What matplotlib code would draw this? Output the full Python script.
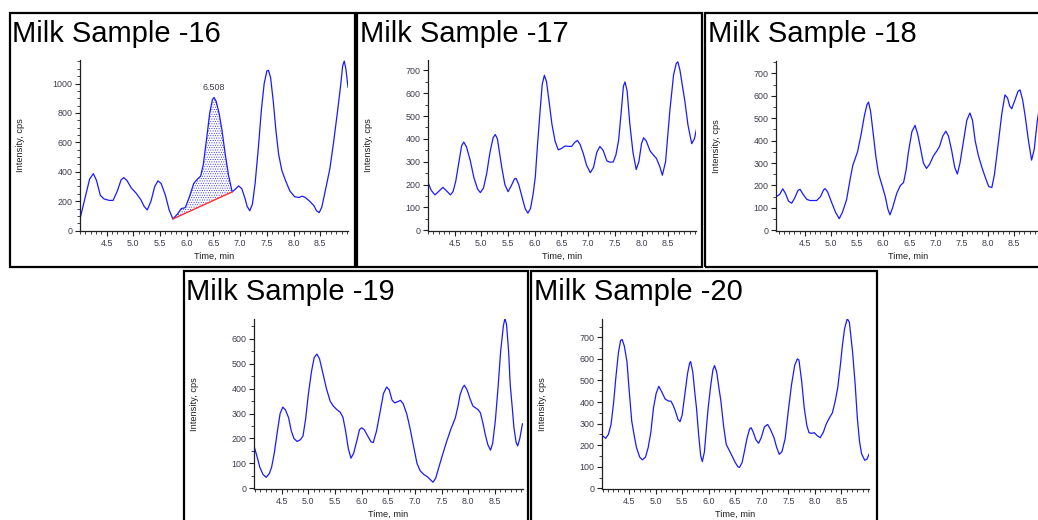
import matplotlib
matplotlib.use("Agg")
import matplotlib.pyplot as plt
from matplotlib.patches import Rectangle
from matplotlib.ticker import MultipleLocator
import numpy as np

plt.rcParams['font.family'] = ['Liberation Sans', 'DejaVu Sans']
plt.rcParams['hatch.linewidth'] = 0.4

W, H = 1038, 520

# Milk Sample -16
t16 = [4.01, 4.10, 4.18, 4.25, 4.31, 4.38, 4.45, 4.55, 4.62, 4.70, 4.77, 4.82, 4.88, 4.96, 5.05,
       5.14, 5.20, 5.26, 5.33, 5.40, 5.46, 5.52, 5.60, 5.67, 5.74, 5.82, 5.90, 5.97, 6.05, 6.13,
       6.20, 6.26, 6.31, 6.37, 6.43, 6.48, 6.51, 6.55, 6.61, 6.66, 6.72, 6.78, 6.85, 6.92, 6.97,
       7.03, 7.09, 7.13, 7.18, 7.23, 7.28, 7.34, 7.40, 7.45, 7.50, 7.53, 7.57, 7.62, 7.67, 7.72,
       7.78, 7.85, 7.93, 8.02, 8.10, 8.16, 8.22, 8.30, 8.38, 8.43, 8.48, 8.53, 8.60, 8.68, 8.75,
       8.82, 8.88, 8.92, 8.95, 8.98, 9.02]
i16 = [95, 230, 350, 387, 340, 240, 215, 205, 205, 270, 345, 360, 340, 290, 255,
       210, 165, 140, 200, 300, 338, 320, 240, 140, 79, 110, 150, 155, 230, 320,
       350, 370, 450, 620, 800, 890, 905, 880, 790, 680, 520, 380, 263, 285, 304,
       285, 220, 165, 135, 180, 320, 560, 830, 1000, 1085, 1090, 1040, 880, 680, 520,
       410, 340, 270, 230, 225, 234, 225, 200, 170, 135, 122, 160, 280, 420, 600,
       800, 980, 1120, 1153, 1100, 975]

# integrated peak of sample 16 (start / end of baseline) and its label
peak_start, peak_end = 5.74, 6.85
peak_label = "6.508"

# Milk Sample -17
t17 = [4.00, 4.06, 4.13, 4.20, 4.28, 4.35, 4.42, 4.47, 4.52, 4.58, 4.63, 4.67, 4.72, 4.79, 4.86,
       4.93, 4.98, 5.04, 5.10, 5.16, 5.22, 5.26, 5.30, 5.38, 5.44, 5.50, 5.56, 5.62, 5.65, 5.70,
       5.76, 5.82, 5.87, 5.92, 5.97, 6.01, 6.05, 6.10, 6.14, 6.18, 6.22, 6.27, 6.32, 6.38, 6.44,
       6.50, 6.57, 6.63, 6.69, 6.75, 6.80, 6.85, 6.91, 6.97, 7.04, 7.10, 7.16, 7.22, 7.28, 7.35,
       7.41, 7.47, 7.52, 7.57, 7.62, 7.66, 7.69, 7.73, 7.78, 7.84, 7.90, 7.95, 8.00, 8.04, 8.09,
       8.16, 8.22, 8.28, 8.34, 8.39, 8.45, 8.53, 8.60, 8.65, 8.68, 8.72, 8.76, 8.81, 8.87, 8.94,
       8.99, 9.03]
i17 = [210, 175, 155, 170, 188, 172, 155, 170, 215, 300, 370, 386, 365, 307, 230,
       180, 165, 185, 249, 340, 405, 419, 400, 278, 200, 169, 195, 225, 227, 200,
       147, 95, 75, 95, 160, 234, 370, 523, 640, 678, 650, 560, 466, 390, 352,
       358, 369, 367, 367, 385, 393, 375, 335, 285, 252, 275, 340, 367, 350, 304,
       298, 299, 330, 393, 520, 630, 649, 610, 466, 340, 266, 300, 380, 405, 390,
       347, 330, 314, 280, 241, 300, 523, 680, 730, 737, 700, 640, 567, 460, 379,
       400, 444]

# Milk Sample -18
t18 = [3.96, 4.02, 4.08, 4.13, 4.19, 4.25, 4.31, 4.37, 4.41, 4.47, 4.54, 4.60, 4.73, 4.80, 4.86,
       4.89, 4.94, 5.02, 5.09, 5.16, 5.22, 5.30, 5.37, 5.42, 5.51, 5.58, 5.64, 5.69, 5.72, 5.76,
       5.81, 5.86, 5.91, 5.98, 6.04, 6.09, 6.13, 6.18, 6.26, 6.33, 6.39, 6.44, 6.48, 6.55, 6.61,
       6.66, 6.71, 6.77, 6.83, 6.89, 6.96, 7.03, 7.08, 7.14, 7.20, 7.25, 7.31, 7.37, 7.42, 7.47,
       7.54, 7.60, 7.66, 7.71, 7.76, 7.82, 7.89, 7.95, 8.02, 8.08, 8.13, 8.21, 8.27, 8.33, 8.38,
       8.42, 8.46, 8.52, 8.58, 8.62, 8.67, 8.72, 8.78, 8.84, 8.89, 8.95, 9.00]
i18 = [151, 160, 185, 165, 130, 121, 145, 178, 183, 160, 138, 133, 133, 150, 180,
       186, 170, 121, 80, 52, 80, 136, 230, 290, 350, 430, 510, 560, 572, 530,
       431, 330, 254, 200, 151, 95, 69, 100, 165, 200, 213, 270, 343, 440, 468,
       430, 372, 300, 276, 295, 331, 355, 375, 420, 442, 420, 357, 280, 251, 300,
       402, 490, 523, 490, 400, 335, 280, 239, 195, 191, 250, 402, 520, 604, 590,
       555, 542, 580, 620, 626, 580, 505, 400, 313, 360, 490, 560]

# Milk Sample -19
t19 = [3.98, 4.04, 4.09, 4.15, 4.21, 4.27, 4.31, 4.36, 4.42, 4.47, 4.52, 4.57, 4.63, 4.68, 4.73,
       4.79, 4.85, 4.90, 4.95, 5.00, 5.06, 5.11, 5.16, 5.21, 5.28, 5.34, 5.41, 5.47, 5.53, 5.60,
       5.65, 5.70, 5.75, 5.80, 5.85, 5.91, 5.96, 6.00, 6.05, 6.13, 6.18, 6.22, 6.28, 6.35, 6.41,
       6.47, 6.52, 6.57, 6.62, 6.68, 6.73, 6.78, 6.85, 6.91, 6.98, 7.04, 7.10, 7.17, 7.23, 7.29,
       7.34, 7.39, 7.45, 7.52, 7.60, 7.68, 7.76, 7.81, 7.85, 7.90, 7.93, 7.98, 8.04, 8.09, 8.14,
       8.19, 8.23, 8.28, 8.32, 8.37, 8.42, 8.46, 8.51, 8.56, 8.61, 8.66, 8.69, 8.72, 8.76, 8.79,
       8.83, 8.86, 8.90, 8.93, 8.97, 9.02]
i19 = [170, 125, 84, 55, 44, 60, 84, 140, 230, 300, 326, 315, 283, 230, 200,
       188, 195, 210, 280, 377, 470, 525, 539, 520, 456, 400, 350, 330, 317, 305,
       285, 230, 160, 121, 140, 190, 235, 243, 235, 204, 186, 184, 230, 310, 380,
       407, 395, 355, 343, 348, 353, 340, 297, 240, 164, 100, 70, 55, 47, 35,
       24, 40, 84, 135, 190, 240, 283, 330, 377, 405, 414, 395, 357, 330, 323,
       315, 303, 260, 217, 175, 153, 180, 270, 400, 549, 650, 682, 660, 550, 416,
       320, 243, 185, 170, 200, 259]

# Milk Sample -20
t20 = [4.00, 4.06, 4.11, 4.16, 4.21, 4.25, 4.30, 4.34, 4.37, 4.41, 4.46, 4.50, 4.55, 4.60, 4.64,
       4.70, 4.75, 4.81, 4.86, 4.91, 4.96, 5.01, 5.06, 5.11, 5.18, 5.24, 5.29, 5.33, 5.37, 5.42,
       5.46, 5.50, 5.55, 5.60, 5.64, 5.66, 5.70, 5.74, 5.77, 5.81, 5.85, 5.88, 5.92, 5.96, 5.99,
       6.04, 6.08, 6.11, 6.15, 6.19, 6.23, 6.28, 6.33, 6.39, 6.44, 6.50, 6.55, 6.58, 6.63, 6.68,
       6.72, 6.77, 6.80, 6.84, 6.89, 6.94, 6.99, 7.05, 7.11, 7.16, 7.23, 7.28, 7.33, 7.38, 7.44,
       7.50, 7.56, 7.62, 7.67, 7.70, 7.75, 7.80, 7.85, 7.89, 7.94, 7.99, 8.04, 8.10, 8.16, 8.21,
       8.27, 8.33, 8.38, 8.43, 8.48, 8.52, 8.56, 8.61, 8.65, 8.71, 8.76, 8.80, 8.84, 8.88, 8.94,
       8.98, 9.02]
i20 = [243, 232, 250, 296, 400, 511, 630, 685, 690, 660, 588, 460, 312, 240, 189,
       145, 132, 145, 189, 260, 373, 440, 473, 450, 414, 405, 404, 385, 360, 320,
       309, 340, 434, 530, 580, 588, 540, 440, 373, 250, 150, 124, 170, 290, 373,
       480, 550, 569, 540, 470, 404, 290, 204, 175, 150, 120, 100, 97, 120, 180,
       230, 275, 281, 260, 225, 209, 235, 285, 296, 275, 235, 190, 158, 170, 230,
       360, 480, 570, 600, 595, 500, 373, 290, 258, 255, 258, 245, 235, 260, 296,
       325, 350, 400, 465, 570, 665, 740, 787, 770, 634, 480, 327, 220, 160, 130,
       135, 158]

titles = ["Milk Sample -16", "Milk Sample -17", "Milk Sample -18", "Milk Sample -19", "Milk Sample -20"]
series = [(t16, i16), (t17, i17), (t18, i18), (t19, i19), (t20, i20)]
y_max = [1160, 745, 755, 680, 785]
y_major = [200, 100, 100, 100, 100]

# pixel boxes: frame (l, t, r, b), axes (l, t, r, b), title (x, baseline), xlim
frames = [(10, 13, 355, 267), (357, 13, 702, 267), (705, 13, 1045, 267),
          (184, 271, 528, 530), (531, 271, 877, 530)]
axes_px = [(80, 60, 348, 231), (428, 60, 696, 231), (776, 61, 1041, 231),
           (254, 319, 523, 489), (602, 319, 869, 489)]
xlims = [(4.0, 9.02), (4.0, 9.02), (3.95, 9.02), (3.98, 9.03), (3.99, 9.02)]
title_pos = [(12, 42), (360, 42), (708, 42), (186, 300), (534, 300)]

fig = plt.figure(figsize=(W / 100, H / 100), dpi=100)

for (l, t, r, b) in frames:
    fig.patches.append(Rectangle((l / W, 1 - b / H), (r - l) / W, (b - t) / H,
                                 transform=fig.transFigure, fill=False,
                                 edgecolor='black', linewidth=1.6, zorder=0))

tick_color = '#3c3c4c'
for k in range(5):
    l, t, r, b = axes_px[k]
    ax = fig.add_axes([l / W, 1 - b / H, (r - l) / W, (b - t) / H])
    ax.patch.set_alpha(0)
    x, y = series[k]
    ax.plot(x, y, color='#1a1aff', lw=0.9)
    ax.set_xlim(*xlims[k])
    ax.set_ylim(-3, y_max[k])
    ax.xaxis.set_major_locator(MultipleLocator(0.5))
    ax.xaxis.set_minor_locator(MultipleLocator(0.1))
    ax.yaxis.set_major_locator(MultipleLocator(y_major[k]))
    ax.yaxis.set_minor_locator(MultipleLocator(50))
    ax.set_xticks([4.5, 5.0, 5.5, 6.0, 6.5, 7.0, 7.5, 8.0, 8.5])
    ax.set_xticklabels(["4.5", "5.0", "5.5", "6.0", "6.5", "7.0", "7.5", "8.0", "8.5"])
    for s in ['top', 'right']:
        ax.spines[s].set_visible(False)
    for s in ['left', 'bottom']:
        ax.spines[s].set_color('#202020')
        ax.spines[s].set_linewidth(0.9)
    ax.tick_params(which='major', length=3.5, width=0.8, color='#202020',
                   labelsize=6.4, labelcolor=tick_color, pad=2)
    ax.tick_params(which='minor', length=2, width=0.6, color='#202020')
    ax.set_xlabel("Time, min", fontsize=6.7, color='#202020', labelpad=3)
    ax.set_ylabel("Intensity, cps", fontsize=6.7, color='#202020')
    ax.yaxis.set_label_coords(-55 / (r - l), 0.5)
    tx, ty = title_pos[k]
    fig.text(tx / W, 1 - ty / H, titles[k], fontsize=21, va='baseline', ha='left')

    if k == 0:
        xs = np.array(x)
        ys = np.array(y)
        m = (xs >= peak_start) & (xs <= peak_end)
        y0 = ys[np.argmin(np.abs(xs - peak_start))]
        y1 = ys[np.argmin(np.abs(xs - peak_end))]
        base = y0 + (xs[m] - peak_start) * (y1 - y0) / (peak_end - peak_start)
        ax.fill_between(xs[m], base, ys[m], facecolor='none', edgecolor='#2a2aff',
                        hatch='.' * 7, linewidth=0)
        ax.plot([peak_start, peak_end], [y0, y1], color='#ff3030', lw=1.0)
        ipk = np.argmax(np.where(m, ys, 0))
        ax.annotate(peak_label, xy=(xs[ipk], ys[ipk]), xytext=(0, 4),
                    textcoords='offset points', ha='center', va='bottom',
                    fontsize=6.4, color=tick_color)

fig.savefig("out.png", dpi=100)
